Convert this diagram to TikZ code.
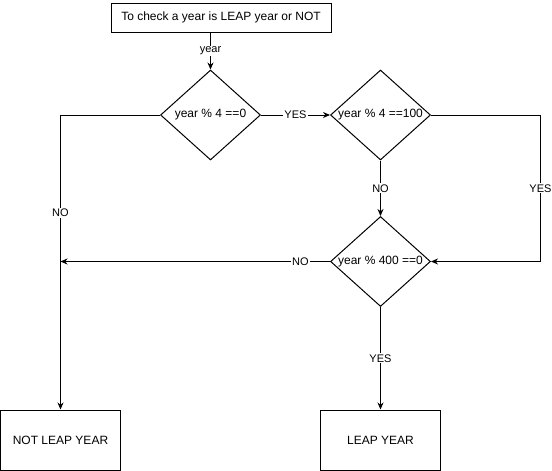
\documentclass[tikz,border=0pt]{standalone}
\usepackage{fontspec}
\setmainfont{Liberation Sans}
\usetikzlibrary{shapes.geometric,arrows.meta}
\begin{document}
\begin{tikzpicture}[x=1pt,y=-1pt,
  every node/.style={font=\fontsize{12}{14}\selectfont},
  procbox/.style={draw, line width=1pt, inner sep=0pt},
  decision/.style={draw, line width=1pt, shape=diamond, inner sep=0pt, minimum width=100pt, minimum height=90pt},
  conn/.style={line width=1pt, -{Stealth[length=7pt,width=6pt]}},
  plain/.style={line width=1pt},
  elabel/.style={fill=white, inner sep=1pt, font=\fontsize{11}{13}\selectfont}]
\useasboundingbox (0,0) rectangle (552,471);
\node[procbox, minimum width=220pt, minimum height=29pt] (start) at (221,17.5) {To check a year is LEAP year or NOT};
\node[decision, label=center:{year \% 4 ==0}] (d1) at (210.5,115) {};
\node[decision, label=center:{year \% 4 ==100}] (d2) at (380.5,115) {};
\node[decision, label=center:{year \% 400 ==0}] (d3) at (380.5,261.5) {};
\node[procbox, minimum width=120pt, minimum height=60pt] (nly) at (60.5,440) {NOT LEAP YEAR};
\node[procbox, minimum width=120pt, minimum height=60pt] (ly) at (380.5,440) {LEAP YEAR};
\coordinate (sb) at (210.5,32);
\coordinate (rc) at (540.5,115);
\coordinate (lj) at (60.5,261.5);
\draw[conn] (sb) -- node[elabel] {year} (d1.north);
\draw[conn] (d1.east) -- node[elabel] {YES} (d2.west);
\draw[conn] (d2.south) -- node[elabel] {NO} (d3.north);
\draw[conn] (d2.east) -- (rc) |- node[elabel, pos=0.25] {YES} (d3.east);
\draw[conn] (d3.west) -- node[elabel, pos=0.11] {NO} (lj);
\draw[conn] (d1.west) -| node[elabel, pos=0.666] {NO} (nly.north);
\draw[conn] (d3.south) -- node[elabel] {YES} (ly.north);
\end{tikzpicture}
\end{document}
